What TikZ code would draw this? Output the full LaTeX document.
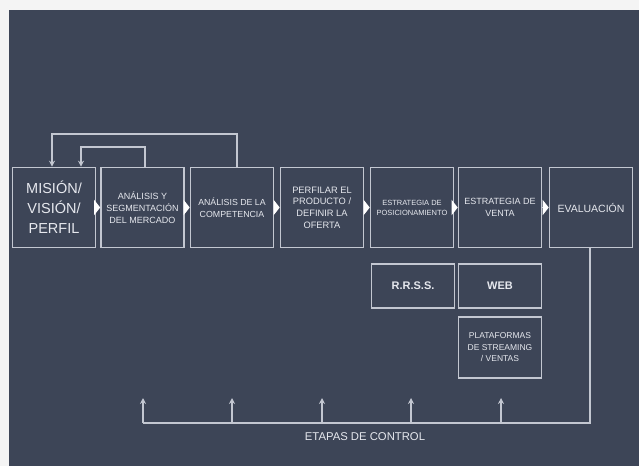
\documentclass[tikz,border=0pt]{standalone}
\usepackage{fontspec}
\setmainfont{Liberation Sans}
\usetikzlibrary{arrows.meta}
\definecolor{bg}{HTML}{3D4557}
\definecolor{page}{HTML}{F4F4F4}
\definecolor{ln}{HTML}{C3C7D1}
\definecolor{tx}{HTML}{E6E8EE}
\newcommand{\fs}[1]{\fontsize{#1}{#1}\selectfont}
\begin{document}
\begin{tikzpicture}[x=1pt,y=-1pt,
  box/.style={draw=ln, line width=1.6pt, minimum width=83pt, minimum height=80pt,
    inner sep=0pt, text=tx, align=center},
  subbox/.style={draw=ln, line width=1.6pt, minimum width=83pt, inner sep=0pt,
    text=tx, align=center},
  flow/.style={draw=ln, line width=1.2pt, -{Triangle[length=6pt,width=15pt,fill=white,color=white]}},
  fb/.style={draw=ln, line width=1.6pt, -{Stealth[length=6pt,width=6pt]}},
  ctl/.style={draw=ln, line width=1.6pt},
  up/.style={draw=ln, line width=1.6pt, -{Stealth[length=6pt,width=6pt]}}
]
\fill[page] (0,0) rectangle (639,466);
\fill[bg] (9,10) rectangle (639,466);
\useasboundingbox (0,0) rectangle (639,466);

\node[box, font=\fontsize{14.5}{20}\selectfont] (b1) at (54,207.5)
  {MISIÓN/\\VISIÓN/\\PERFIL};
\node[box, font=\fontsize{9}{12}\selectfont] (b2) at (142.5,207.5)
  {ANÁLISIS Y\\SEGMENTACIÓN\\DEL MERCADO};
\node[box, font=\fontsize{8.8}{12}\selectfont] (b3) at (232,207.5)
  {ANÁLISIS DE LA\\COMPETENCIA};
\node[box, font=\fontsize{9.3}{11.7}\selectfont] (b4) at (322,207.5)
  {PERFILAR EL\\PRODUCTO /\\DEFINIR LA\\OFERTA};
\node[box, font=\fontsize{7.5}{10}\selectfont] (b5) at (412,207.5)
  {ESTRATEGIA DE\\POSICIONAMIENTO};
\node[box, font=\fontsize{9}{12}\selectfont] (b6) at (500,207.5)
  {ESTRATEGIA DE\\VENTA};
\node[box, font=\fs{10.5}] (b7) at (591,207.5) {EVALUACIÓN};

\node[subbox, minimum height=44pt, font=\bfseries\fs{11}] (rrss) at (413,286) {R.R.S.S.};
\node[subbox, minimum height=44pt, font=\bfseries\fs{11}] (web) at (500,286) {WEB};
\node[subbox, minimum height=61pt, font=\fontsize{8.5}{11.5}\selectfont] (plat) at (500,347.5)
  {PLATAFORMAS\\DE STREAMING\\/ VENTAS};

\draw[flow] (b1.east) -- (b2.west);
\draw[flow] (b2.east) -- (b3.west);
\draw[flow] (b3.east) -- (b4.west);
\draw[flow] (b4.east) -- (b5.west);
\draw[flow] (b5.east) -- (b6.west);
\draw[flow] (b6.east) -- (b7.west);

\draw[fb] ([xshift=5pt]b3.north) -- ++(0,-32.5) -| ([xshift=-2pt]b1.north);
\draw[fb] ([xshift=2.5pt]b2.north) -- ++(0,-19.5) -| ([xshift=27pt]b1.north);

\coordinate (base) at (143,423);
\coordinate (t1) at (143,398);
\coordinate (t2) at (232,398);
\coordinate (t3) at (322,398);
\coordinate (t4) at (411,398);
\coordinate (t5) at (501,398);
\draw[ctl] ([xshift=-1pt]b7.south) |- (base);
\draw[up] (t1 |- base) -- (t1);
\draw[up] (t2 |- base) -- (t2);
\draw[up] (t3 |- base) -- (t3);
\draw[up] (t4 |- base) -- (t4);
\draw[up] (t5 |- base) -- (t5);
\node[text=tx, font=\fs{11.3}, anchor=center] (lbl) at (365,437) {ETAPAS DE CONTROL};
\end{tikzpicture}
\end{document}
